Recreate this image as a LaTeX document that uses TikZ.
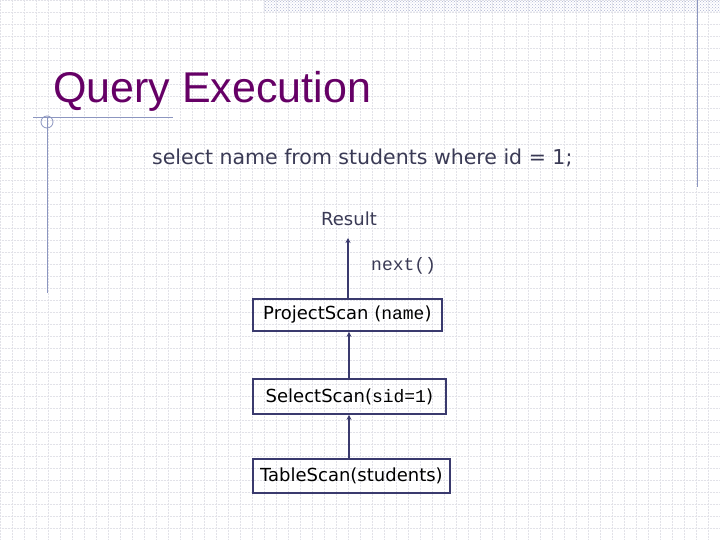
\documentclass[tikz,border=0pt]{standalone}
\usepackage{fontspec}
\setmainfont{Liberation Sans}
\setmonofont{Liberation Mono}
\newfontfamily\dvs{DejaVu Sans}
\usetikzlibrary{arrows.meta,patterns}
\definecolor{navy}{HTML}{3A3A6E}
\definecolor{ttl}{HTML}{660066}
\definecolor{txt}{HTML}{3A3A55}
\definecolor{gridc}{HTML}{E2E2E8}
\definecolor{rule}{HTML}{8C96C0}
\tikzset{opbox/.style={draw=navy,line width=1.8pt,inner sep=4pt,font=\dvs\fontsize{18}{20}\selectfont,text=black,anchor=west},
flow/.style={navy,line width=1.8pt,-{Stealth[length=5pt,width=5pt]}}}
\begin{document}
\begin{tikzpicture}[x=1pt,y=-1pt]
\useasboundingbox (0,0) rectangle (720,540);
\fill[white] (0,0) rectangle (720,540);
\foreach \i in {0,12,...,720} \draw[gridc,densely dotted,line width=0.5pt] (\i,0) -- (\i,540);
\foreach \i in {0,12,...,540} \draw[gridc,densely dotted,line width=0.5pt] (0,\i) -- (720,\i);
\fill[pattern=crosshatch dots,pattern color=rule!70] (263,0) rectangle (720,12);
\draw[rule,line width=1pt] (697,0) -- (697,187);
\draw[rule,line width=1pt] (33,118) -- (173,118);
\draw[rule,line width=1pt] (47,118) -- (47,293);
\draw[rule,line width=0.8pt] (47,122) circle (6);
\node[anchor=base west,text=ttl,font=\fontsize{43}{45}\selectfont,inner sep=0] (title) at (53,103) {Query Execution};
\node[anchor=base west,text=txt,font=\dvs\fontsize{20.5}{24}\selectfont,inner sep=0] (sql) at (152,165) {select name from students where id = 1;};
\node[text=txt,font=\dvs\fontsize{18}{21}\selectfont,inner sep=2pt] (res) at (349,219) {Result};
\node[anchor=west,text=txt,font=\ttfamily\fontsize{18}{20}\selectfont,inner sep=0] (nx) at (371,266) {next()};
\node[opbox,minimum width=189pt,minimum height=32pt] (p) at (252,315) {ProjectScan (\texttt{name})};
\node[opbox,minimum width=193pt,minimum height=35pt] (s) at (252,396.5) {SelectScan(\texttt{sid=1})};
\node[opbox,minimum width=197pt,minimum height=34pt] (t) at (252,476) {TableScan(students)};
\draw[flow] (p.north -| 348,0) -- (348,238);
\draw[flow] (t.north -| 349,0) -- (s.south -| 349,0);
\draw[flow] (s.north -| 349,0) -- (p.south -| 349,0);
\end{tikzpicture}
\end{document}
